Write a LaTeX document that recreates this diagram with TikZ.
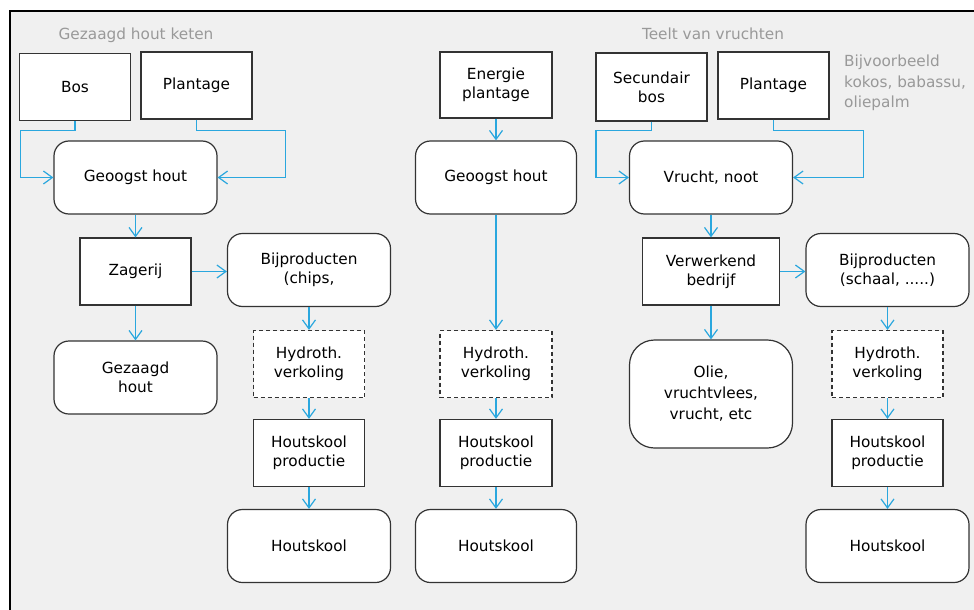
\documentclass[tikz,border=0pt]{standalone}
\usepackage{fontspec}
\setmainfont{DejaVu Sans}
\usepackage{tikz}
\usetikzlibrary{arrows.meta}
\definecolor{pijlkleur}{HTML}{2AA7DE}
\definecolor{rand}{HTML}{333333}
\definecolor{grijs}{HTML}{999999}
\definecolor{achter}{HTML}{F0F0F0}

\begin{document}
\begin{tikzpicture}[x=1pt,y=-1pt,
    every node/.style={font=\fontsize{15.3}{19}\selectfont, align=center, inner sep=0pt},
    blok/.style={draw=rand, line width=1.2pt, fill=white, minimum width=111pt, minimum height=67pt},
    rblok/.style={blok, rounded corners=15pt, minimum width=163pt, minimum height=73pt},
    sblok/.style={blok, dash pattern=on 4pt off 3pt},
    pijl/.style={draw=pijlkleur, line width=1.2pt, -{Straight Barb[length=9pt,width=13pt]}},
    titel/.style={text=grijs}]
    % Frame and background
    \useasboundingbox (0,0) rectangle (974,610);
    \fill[achter] (10,11) rectangle (974,610);
    \draw[line width=2pt] (10,610) -- (10,11) -- (974,11);

    % Gezaagd hout keten
    \node[titel, anchor=base] (titelA) at (136,39.5) {Gezaagd hout keten};
    \node[blok] (bos) at (75,87) {Bos};
    \node[blok] (plantA) at (196.5,85.5) {Plantage};
    \node[rblok] (geoA) at (135.5,177.5) {Geoogst hout};
    \node[blok] (zag) at (135.5,271.5) {Zagerij};
    \node[rblok] (bijA) at (309,270) {Bijproducten\\(chips,};
    \node[rblok] (gezaagd) at (135.5,377.5) {Gezaagd\\hout};
    \node[sblok] (hydA) at (309,364) {Hydroth.\\verkoling};
    \node[blok] (prodA) at (309,453) {Houtskool\\productie};
    \node[rblok] (koolA) at (309,546) {Houtskool};

    % Energie plantage
    \node[blok, minimum width=112pt, minimum height=66pt] (energie) at (496,85) {Energie\\plantage};
    \node[rblok, minimum width=161pt] (geoB) at (496,177.5) {Geoogst hout};
    \node[sblok, minimum width=112pt] (hydB) at (496,364) {Hydroth.\\verkoling};
    \node[blok, minimum width=112pt] (prodB) at (496,453) {Houtskool\\productie};
    \node[rblok, minimum width=161pt] (koolB) at (496,546) {Houtskool};

    % Teelt van vruchten
    \node[titel, anchor=base] (titelC) at (713,39.5) {Teelt van vruchten};
    \node[titel, anchor=north west, align=left, font=\fontsize{15.3}{20.5}\selectfont] (voorbeeld) at (844,55) {Bijvoorbeeld\\kokos, babassu,\\oliepalm};
    \node[blok, minimum height=68pt] (secbos) at (651.5,87) {Secundair\\bos};
    \node[blok] (plantC) at (773.5,85.5) {Plantage};
    \node[rblok] (vrucht) at (711,177.5) {Vrucht, noot};
    \node[blok, minimum width=137pt] (verw) at (711,271.5) {Verwerkend\\bedrijf};
    \node[rblok] (bijC) at (887.5,270) {Bijproducten\\(schaal, .....)};
    \node[rblok, rounded corners=25pt, minimum height=108pt, font=\fontsize{15.3}{21}\selectfont] (olie) at (711,394) {Olie,\\vruchtvlees,\\vrucht, etc};
    \node[sblok] (hydC) at (887.5,364) {Hydroth.\\verkoling};
    \node[blok] (prodC) at (887.5,453) {Houtskool\\productie};
    \node[rblok] (koolC) at (887.5,546) {Houtskool};

    % Arrows left
    \draw[pijl] (bos.south) -- ++(0,9) -| ([xshift=-33pt]geoA.west) -- (geoA.west);
    \draw[pijl] (plantA.south) -- ++(0,11) -| ([xshift=68pt]geoA.east) -- (geoA.east);
    \draw[pijl] (geoA) -- (zag);
    \draw[pijl] (zag.east) -- (zag.east -| bijA.west);
    \draw[pijl] (zag) -- (gezaagd);
    \draw[pijl] (bijA) -- (hydA);
    \draw[pijl] (hydA) -- (prodA);
    \draw[pijl] (prodA) -- (koolA);

    % Arrows middle
    \draw[pijl] (energie) -- (geoB);
    \draw[pijl] (geoB) -- (hydB);
    \draw[pijl] (hydB) -- (prodB);
    \draw[pijl] (prodB) -- (koolB);

    % Arrows right
    \draw[pijl] (secbos.south) -- ++(0,9) -| ([xshift=-33pt]vrucht.west) -- (vrucht.west);
    \draw[pijl] (plantC.south) -- ++(0,11) -| ([xshift=70pt]vrucht.east) -- (vrucht.east);
    \draw[pijl] (vrucht) -- (verw);
    \draw[pijl] (verw.east) -- (verw.east -| bijC.west);
    \draw[pijl] (verw) -- (olie);
    \draw[pijl] (bijC) -- (hydC);
    \draw[pijl] (hydC) -- (prodC);
    \draw[pijl] (prodC) -- (koolC);
\end{tikzpicture}
\end{document}
